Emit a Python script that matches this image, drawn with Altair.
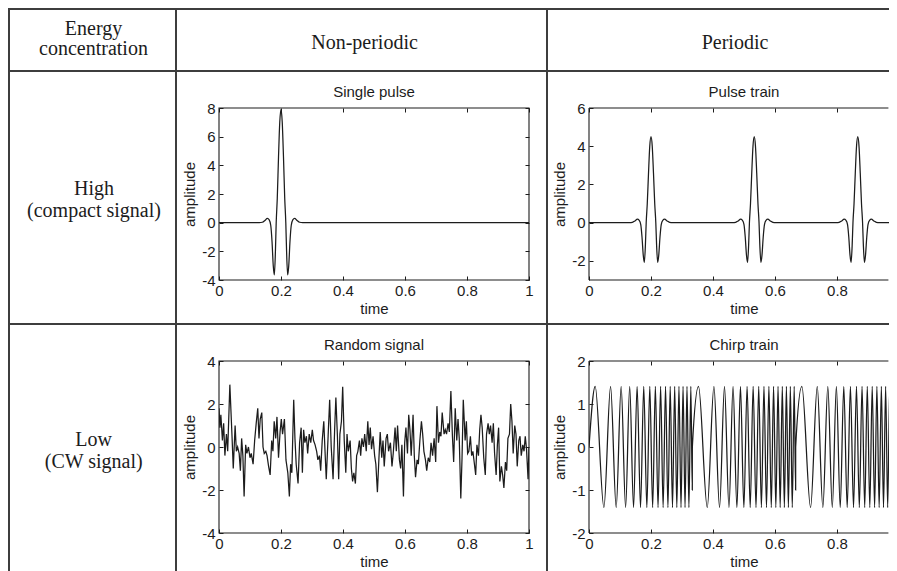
import altair as alt
import pandas as pd

# ---------------- texts ----------------
corner_lines = ["Energy", "concentration"]
col_headers = ["Non-periodic", "Periodic"]
row_high = ["High", "(compact signal)"]
row_low = ["Low", "(CW signal)"]
plot_titles = ["Single pulse", "Pulse train", "Random signal", "Chirp train"]
x_title = "time"
y_title = "amplitude"

x_ticks = [0, 0.2, 0.4, 0.6, 0.8, 1]
x_ticks_cut = [0, 0.2, 0.4, 0.6, 0.8]          # right column is cut off at the picture edge
single_yticks = [-4, -2, 0, 2, 4, 6, 8]
train_yticks = [-2, 0, 2, 4, 6]
random_yticks = [-4, -2, 0, 2, 4]
chirp_yticks = [-2, -1, 0, 1, 2]

single_ydomain = [-4, 8]
train_ydomain = [-3, 6]
random_ydomain = [-4, 4]
chirp_ydomain = [-2, 2]

# ---------------- single pulse ----------------
single_t = [0, 0.13, 0.14, 0.148, 0.156, 0.162, 0.167, 0.171, 0.175, 0.1785, 0.182,
            0.1845, 0.188, 0.192, 0.196, 0.2, 0.204, 0.208, 0.212, 0.2155, 0.218,
            0.2215, 0.225, 0.229, 0.233, 0.238, 0.244, 0.252, 0.26, 0.27, 1]
single_amp = [0, 0, 0.03, 0.15, 0.3, 0.2, -0.2, -1.3, -3.0, -3.65, -2.0,
              0, 1.7, 4.6, 7.0, 7.9, 7.0, 4.6, 1.7, 0, -2.0,
              -3.65, -3.0, -1.3, -0.2, 0.2, 0.3, 0.15, 0.03, 0, 0]

# ---------------- pulse train ----------------
train_t = [0,
           0.13, 0.14, 0.148, 0.156, 0.162, 0.167, 0.171, 0.175, 0.1785, 0.182, 0.1845, 0.188, 0.192, 0.196, 0.2,
           0.204, 0.208, 0.212, 0.2155, 0.218, 0.2215, 0.225, 0.229, 0.233, 0.238, 0.244, 0.252, 0.26, 0.27,
           0.463, 0.473, 0.481, 0.489, 0.495, 0.5, 0.504, 0.508, 0.5115, 0.515, 0.5175, 0.521, 0.525, 0.529, 0.533,
           0.537, 0.541, 0.545, 0.5485, 0.551, 0.5545, 0.558, 0.562, 0.566, 0.571, 0.577, 0.585, 0.593, 0.603,
           0.797, 0.807, 0.815, 0.823, 0.829, 0.834, 0.838, 0.842, 0.8455, 0.849, 0.8515, 0.855, 0.859, 0.863, 0.867,
           0.871, 0.875, 0.879, 0.8825, 0.885, 0.8885, 0.892, 0.896, 0.9, 0.905, 0.911, 0.919, 0.927, 0.937,
           1]
train_amp = [0,
             0, 0.02, 0.09, 0.18, 0.12, -0.1, -0.75, -1.7, -2.08, -1.15, 0, 1.0, 2.6, 4.0, 4.5,
             4.0, 2.6, 1.0, 0, -1.15, -2.08, -1.7, -0.75, -0.1, 0.12, 0.18, 0.09, 0.02, 0,
             0, 0.02, 0.09, 0.18, 0.12, -0.1, -0.75, -1.7, -2.08, -1.15, 0, 1.0, 2.6, 4.0, 4.5,
             4.0, 2.6, 1.0, 0, -1.15, -2.08, -1.7, -0.75, -0.1, 0.12, 0.18, 0.09, 0.02, 0,
             0, 0.02, 0.09, 0.18, 0.12, -0.1, -0.75, -1.7, -2.08, -1.15, 0, 1.0, 2.6, 4.0, 4.5,
             4.0, 2.6, 1.0, 0, -1.15, -2.08, -1.7, -0.75, -0.1, 0.12, 0.18, 0.09, 0.02, 0,
             0]

# ---------------- random signal ----------------
random_t = [0.000, 0.003, 0.006, 0.011, 0.015, 0.019, 0.024, 0.028, 0.035, 0.042, 0.046, 0.052, 0.056,
            0.060, 0.065, 0.069, 0.073, 0.077, 0.081, 0.086, 0.090, 0.095, 0.100, 0.104, 0.110,
            0.115, 0.120, 0.125, 0.129, 0.133, 0.138, 0.142, 0.146, 0.151, 0.155, 0.160, 0.165, 0.170,
            0.174, 0.178, 0.183, 0.187, 0.192, 0.197, 0.201, 0.205, 0.211, 0.216,
            0.222, 0.227, 0.231, 0.235, 0.241, 0.245, 0.249, 0.255, 0.260, 0.265, 0.269, 0.273, 0.277,
            0.282, 0.286, 0.291, 0.296, 0.301, 0.305, 0.310, 0.315, 0.319, 0.324,
            0.328, 0.333, 0.338, 0.342, 0.346, 0.352, 0.357, 0.362, 0.368, 0.373, 0.377, 0.382, 0.386,
            0.390, 0.395, 0.399, 0.404, 0.409, 0.413, 0.417, 0.423, 0.427, 0.431, 0.435, 0.440,
            0.444, 0.448, 0.453, 0.457, 0.461, 0.466, 0.470, 0.475, 0.480, 0.484, 0.488, 0.492, 0.497,
            0.502, 0.506, 0.511, 0.516, 0.520, 0.525, 0.529, 0.533, 0.539, 0.543, 0.547, 0.553, 0.558,
            0.562, 0.568, 0.572, 0.576, 0.582, 0.586, 0.590, 0.595, 0.599, 0.603, 0.608, 0.612, 0.616,
            0.620, 0.626, 0.630, 0.634, 0.639, 0.643, 0.648, 0.653, 0.657, 0.661, 0.666, 0.670, 0.675, 0.680,
            0.684, 0.689, 0.694, 0.699, 0.703, 0.708, 0.712, 0.716, 0.720, 0.726, 0.730, 0.734, 0.739,
            0.743, 0.748, 0.753, 0.757, 0.762, 0.767, 0.771, 0.775, 0.780, 0.784, 0.788, 0.794,
            0.798, 0.802, 0.806, 0.811, 0.815, 0.819, 0.824, 0.828, 0.832, 0.837, 0.841, 0.845, 0.849,
            0.854, 0.859, 0.863, 0.868, 0.872, 0.876, 0.881, 0.885, 0.889, 0.894, 0.898, 0.902, 0.906,
            0.911, 0.915, 0.919, 0.924, 0.928, 0.932, 0.937, 0.941, 0.945, 0.949, 0.954, 0.958, 0.962,
            0.967, 0.971, 0.975, 0.980, 0.984, 0.988, 0.992, 0.997, 1.000]
random_amp = [1.8, 0.9, 1.5, 0.3, 1.1, -0.4, 0.6, -0.2, 2.9, 0.5, -1.0, 1.0, -0.2,
              0.0, -0.3, -1.1, 0.4, -0.4, -2.3, 0.1, -0.3, 0.0, -0.5, -0.3, -0.8,
              0.3, 1.1, 1.8, 0.4, 1.3, 1.6, 0.0, -0.3, -0.2, -0.4, -0.9, -1.3, 0.3,
              -0.2, 1.2, 0.4, 1.4, -0.5, 0.7, 1.3, 0.6, 1.3, -0.6,
              -1.2, -2.3, -0.8, -1.2, 2.2, 0.4, -0.8, -1.7, 0.2, 0.9, -1.2, 0.8, 0.2,
              0.5, -0.3, 0.6, 0.2, 0.8, 0.3, 0.1, -0.2, -0.6, -0.4,
              -1.1, 0.3, 1.2, -0.2, -1.5, 0.5, 2.2, 0.0, -1.5, 0.8, 2.3, 0.5, -1.5,
              0.6, 1.2, 2.8, 0.3, -1.2, 0.6, -0.2, 0.3, -1.0, -1.6, -1.2, -1.7,
              -0.4, -0.2, 0.3, -0.4, 0.4, 0.0, 0.6, -0.2, 1.2, 0.1, 0.9, -0.1, 0.5,
              -0.4, -0.8, -2.1, -0.5, 0.7, -0.5, 0.3, -0.9, 0.4, 0.6, -0.2, 0.2, -0.9,
              -0.3, 0.9, -0.2, 1.0, -0.6, -1.0, 0.1, -2.3, 0.2, 0.9, -0.3, 1.5, 0.8,
              -0.4, 1.5, -0.4, -1.4, -0.6, -0.8, 0.3, 1.2, 0.6, -0.2, -0.6, -1.1, -0.5, -0.7,
              0.2, -0.4, 0.4, -0.7, 1.9, 0.2, 0.7, 0.5, 1.6, 0.6, 0.8, 0.6, 1.1,
              0.7, 2.6, 0.5, -0.7, 1.8, 0.3, 1.3, 0.4, -2.4, -0.5, 2.2, 0.3,
              1.2, -0.3, -0.2, 0.5, -0.4, -0.2, -0.8, -1.3, 0.1, -0.4, 0.8, 1.5, 0.9,
              -0.5, -1.3, 0.6, 1.1, 0.6, 1.0, 0.2, 1.1, -0.3, -1.3, 0.1, 0.9, -1.6,
              -0.9, -1.3, -1.9, -0.7, -1.1, 0.4, 0.6, 2.0, 1.2, -0.3, 1.0, 0.6, -0.9,
              0.3, 0.5, -0.4, 0.1, -0.2, 0.5, -0.1, -1.5, 0.0]

# ---------------- chirp train ----------------
chirp_starts = [0.0, 0.3334, 0.6667]
chirp_extrema_offsets = [0.0200, 0.0481, 0.0696, 0.0877, 0.1037, 0.1181, 0.1313, 0.1437,
                         0.1552, 0.1662, 0.1766, 0.1866, 0.1961, 0.2053, 0.2141, 0.2227,
                         0.2310, 0.2391, 0.2469, 0.2546, 0.2620, 0.2693, 0.2764, 0.2833,
                         0.2902, 0.2968, 0.3034, 0.3098, 0.3161, 0.3223, 0.3285]
chirp_extrema_amp = [1.41, -1.41, 1.41, -1.41, 1.41, -1.41, 1.41, -1.41,
                     1.41, -1.41, 1.41, -1.41, 1.41, -1.41, 1.41, -1.41,
                     1.41, -1.41, 1.41, -1.41, 1.41, -1.41, 1.41, -1.41,
                     1.41, -1.41, 1.41, -1.41, 1.41, -1.41, 1.41]
chirp_start_amp = 0.0
chirp_end_offset = 0.3332
chirp_end_amp = -1.0

chirp_t, chirp_amp = [], []
for s in chirp_starts:
    chirp_t.append(s)
    chirp_amp.append(chirp_start_amp)
    for o, a in zip(chirp_extrema_offsets, chirp_extrema_amp):
        chirp_t.append(s + o)
        chirp_amp.append(a)
    chirp_t.append(s + chirp_end_offset)
    chirp_amp.append(chirp_end_amp)

single_df = pd.DataFrame({"t": single_t, "a": single_amp})
train_df = pd.DataFrame({"t": train_t, "a": train_amp})
random_df = pd.DataFrame({"t": random_t, "a": random_amp})
chirp_df = pd.DataFrame({"t": chirp_t, "a": chirp_amp})

# ---------------- styling / layout ----------------
SERIF = "Liberation Serif"
SANS = "Liberation Sans"
BORDER = "#3d3d3d"
INK = "#1c1c1c"
SERIF_SIZE = 20
SANS_SIZE = 15
SIGNAL_W = 1.25

COL1_W = 166
HEAD_H = 61
CELL_W = 370          # middle column
CELL_H = 252
PLOT_W = 310
PLOT_W_CUT = 300      # right column plot, cut at the page edge
PLOT_H = 172
PLOT_DY = 37
COL3_W = 342

one = pd.DataFrame({"k": [0]})


def block(x0, x1, y0, y1, color, opacity=1):
    return alt.Chart(one).mark_rect(fill=color, opacity=opacity, strokeWidth=0).encode(
        x=alt.value(x0), x2=alt.value(x1), y=alt.value(y0), y2=alt.value(y1))


def cell_frame(x0, y0, x1, y1):
    return [
        block(x0, x1, y0, y1, "#ffffff", 0),          # defines the cell bounds
        block(x0 - 1, x1, y0 - 1, y0 + 1, BORDER),    # top border
        block(x0 - 1, x0 + 1, y0 - 1, y1, BORDER),    # left border
    ]


def label(txt, x, y, font, size):
    return alt.Chart(one).mark_text(
        text=txt, font=font, fontSize=size, color=INK, align="center", baseline="alphabetic"
    ).encode(x=alt.value(x), y=alt.value(y))


def header_cell(w, lines, cx, baselines):
    layers = cell_frame(0, 0, w, HEAD_H)
    layers += [label(t, cx, b, SERIF, SERIF_SIZE) for t, b in zip(lines, baselines)]
    return alt.layer(*layers).properties(width=w, height=HEAD_H)


def row_label_cell(lines, cx, baselines):
    # same vertical frame as the plot cells so that the rows line up
    layers = cell_frame(0, -PLOT_DY, COL1_W, CELL_H - PLOT_DY)
    layers += [label(t, cx, b - PLOT_DY, SERIF, SERIF_SIZE) for t, b in zip(lines, baselines)]
    return alt.layer(*layers).properties(width=COL1_W, height=PLOT_H)


INWARD = {"expr": "-4"}


def rule(x0, x1, y0, y1):
    return alt.Chart(one).mark_rule(color=INK, strokeWidth=1.1).encode(
        x=alt.value(x0), x2=alt.value(x1), y=alt.value(y0), y2=alt.value(y1))


def plot_cell(df, title, ydom, yticks, interp, dx, cut=False):
    pw = PLOT_W_CUT if cut else PLOT_W
    xmax = PLOT_W_CUT / PLOT_W if cut else 1
    xt = x_ticks_cut if cut else x_ticks
    xs = alt.Scale(domain=[0, xmax], nice=False, zero=False)
    ys = alt.Scale(domain=ydom, nice=False, zero=False)
    ax_x = alt.Axis(values=xt, labelExpr="'' + datum.value", title=x_title,
                    tickSize=INWARD, labelPadding=7, titlePadding=3, labelFlush=False,
                    domain=False, grid=False, titleX=PLOT_W / 2)
    ax_y = alt.Axis(values=yticks, labelExpr="'' + datum.value", title=y_title,
                    tickSize=INWARD, labelPadding=8, titlePadding=4, labelFlush=False,
                    domain=False, grid=False)
    ax_top = alt.Axis(orient="top", values=xt, labels=False, title=None,
                      tickSize=INWARD, domain=False, grid=False)
    line = alt.Chart(df).mark_line(color=INK, strokeWidth=SIGNAL_W, interpolate=interp, clip=True).encode(
        x=alt.X("t:Q", scale=xs, axis=ax_x), y=alt.Y("a:Q", scale=ys, axis=ax_y))
    if cut:
        mirror = alt.Chart(df).mark_line(opacity=0, clip=True).encode(
            x=alt.X("t:Q", scale=xs, axis=ax_top), y=alt.Y("a:Q", scale=ys, axis=None))
        box = [rule(0, pw - 0.6, 0, 0), rule(0, pw - 0.6, PLOT_H, PLOT_H), rule(0, 0, 0, PLOT_H)]
        x1 = pw
    else:
        ax_right = alt.Axis(orient="right", values=yticks, labels=False, title=None,
                            tickSize=INWARD, domain=False, grid=False)
        mirror = alt.Chart(df).mark_line(opacity=0, clip=True).encode(
            x=alt.X("t:Q", scale=xs, axis=ax_top), y=alt.Y("a:Q", scale=ys, axis=ax_right))
        box = [alt.Chart(one).mark_rect(fill="#ffffff", fillOpacity=0, stroke=INK, strokeWidth=1.1).encode(
            x=alt.value(0), x2=alt.value(pw), y=alt.value(0), y2=alt.value(PLOT_H))]
        x1 = CELL_W - dx
    ttl = label(title, PLOT_W / 2, -11, SANS, SANS_SIZE)
    layers = cell_frame(-dx, -PLOT_DY, x1, CELL_H - PLOT_DY) + [line, mirror] + box + [ttl]
    return alt.layer(*layers).resolve_axis(x="independent", y="independent").properties(
        width=pw, height=PLOT_H)


row1 = alt.hconcat(
    header_cell(COL1_W, corner_lines, 84.5, [26, 46]),
    header_cell(CELL_W, [col_headers[0]], 188.5, [40]),
    header_cell(COL3_W, [col_headers[1]], 188, [40]),
    spacing=0,
)
row2 = alt.hconcat(
    row_label_cell(row_high, 85, [124, 146]),
    plot_cell(single_df, plot_titles[0], single_ydomain, single_yticks, "monotone", 43),
    plot_cell(train_df, plot_titles[1], train_ydomain, train_yticks, "monotone", 42, cut=True),
    spacing=0,
)
row3 = alt.hconcat(
    row_label_cell(row_low, 84.7, [122, 144]),
    plot_cell(random_df, plot_titles[2], random_ydomain, random_yticks, "linear", 43),
    plot_cell(chirp_df, plot_titles[3], chirp_ydomain, chirp_yticks, "monotone", 42, cut=True),
    spacing=0,
)

chart = alt.vconcat(row1, row2, row3, spacing=0).properties(
    padding=0, background="white"
).configure_view(stroke=None).configure_axis(
    labelFont=SANS, titleFont=SANS, labelFontSize=SANS_SIZE, titleFontSize=SANS_SIZE,
    titleFontWeight="normal", labelColor=INK, titleColor=INK, tickColor=INK, tickWidth=1
)

chart.save("out.html", embed_options={"renderer": "svg", "actions": False})
